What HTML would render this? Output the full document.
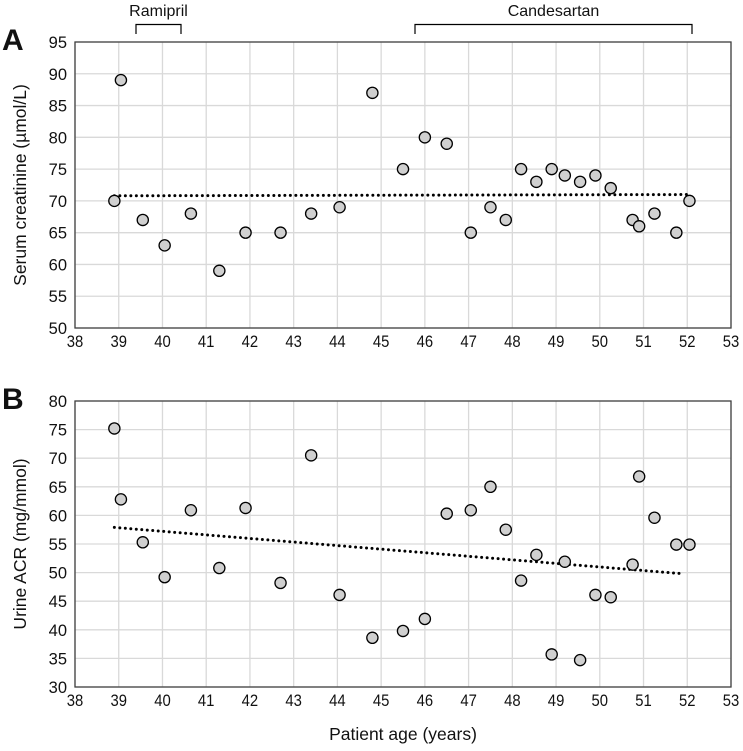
<!DOCTYPE html>
<html><head><meta charset="utf-8"><style>
body{margin:0;background:#fff}
svg text{font-family:"Liberation Sans",Arial,sans-serif;fill:#111}
</style></head><body>
<svg id="s" width="743" height="746" xmlns="http://www.w3.org/2000/svg"></svg>
<script>
const ages=[38.9,39.05,39.55,40.05,40.65,41.3,41.9,42.7,43.4,44.05,44.8,45.5,46,46.5,47.05,47.5,47.85,48.2,48.55,48.9,49.2,49.55,49.9,50.25,50.75,50.9,51.25,51.75,52.05];
const creatinine=[70,89,67,63,68,59,65,65,68,69,87,75,80,79,65,69,67,75,73,75,74,73,74,72,67,66,68,65,70];
const acr=[75.2,62.8,55.3,49.2,60.9,50.8,61.3,48.2,70.5,46.1,38.6,39.8,41.9,60.3,60.9,65,57.5,48.6,53.1,35.7,51.9,34.7,46.1,45.7,51.4,66.8,59.6,54.9,54.9];
const trendA=[[38.9,70.8],[52.05,71.0]];
const trendB=[[38.9,57.9],[51.9,49.8]];
const xTicks=[38,39,40,41,42,43,44,45,46,47,48,49,50,51,52,53];
const yTicksA=[50,55,60,65,70,75,80,85,90,95];
const yTicksB=[30,35,40,45,50,55,60,65,70,75,80];
const svg=document.getElementById('s');
const NS='http://www.w3.org/2000/svg';
function mk(t,a,p){const e=document.createElementNS(NS,t);for(const k in a)e.setAttribute(k,a[k]);(p||svg).appendChild(e);return e;}
const L=75,R=731;
const X=v=>L+(v-38)/15*(R-L);
function panel(name,top,bot,ymin,ymax,yt,vals,trend,title,letter){
  const g=mk('g',{});
  
  
  const Y=v=>bot-(v-ymin)/(ymax-ymin)*(bot-top);
  xTicks.forEach(t=>{const l=mk('line',{x1:X(t),x2:X(t),y1:top,y2:bot,stroke:'#d9d9d9','stroke-width':1.3},g);
    
    const tx=mk('text',{x:X(t),y:bot+19,'text-anchor':'middle','font-size':16.5,transform:`translate(${X(t)},0) scale(0.9,1) translate(${-X(t)},0)`},g);tx.textContent=t;
    });
  yt.forEach(t=>{const l=mk('line',{x1:L,x2:R,y1:Y(t),y2:Y(t),stroke:'#d9d9d9','stroke-width':1.3},g);
    
    const tx=mk('text',{x:L-8,y:Y(t)+6,'text-anchor':'end','font-size':16.5},g);tx.textContent=t;
    });
  const b=mk('rect',{x:L,y:top,width:R-L,height:bot-top,fill:'none',stroke:'#404040','stroke-width':1.3},g);
  
  const tl=mk('line',{x1:X(trend[0][0]),y1:Y(trend[0][1]),x2:X(trend[1][0]),y2:Y(trend[1][1]),stroke:'#000','stroke-width':3,'stroke-dasharray':'0 5.5','stroke-linecap':'round'},g);
  
  vals.forEach((v,i)=>{const c=mk('circle',{cx:X(ages[i]),cy:Y(v),r:5.6,fill:'#d0d0d0',stroke:'#000','stroke-width':1.3},g);
    });
  const yc=(top+bot)/2;
  const yl=mk('text',{x:0,y:0,'text-anchor':'middle','font-size':17.5,transform:`translate(26,${yc}) rotate(-90)`},g);yl.textContent=title;
  
  const lt=mk('text',{x:2,y:top+8,'font-size':30,'font-weight':'bold'},g);lt.textContent=letter;
  
}
panel('creatinine-panel',42,328,50,95,yTicksA,creatinine,trendA,'Serum creatinine (µmol/L)','A');
panel('acr-panel',401,687,30,80,yTicksB,acr,trendB,'Urine ACR (mg/mmol)','B');
const xt=mk('text',{x:403,y:740,'text-anchor':'middle','font-size':17.5});xt.textContent='Patient age (years)';

function bracket(name,x1,x2,label){
  const p=mk('path',{d:`M${x1} 34 V24.5 H${x2} V34`,fill:'none',stroke:'#000','stroke-width':1.2});
  
  const t=mk('text',{x:(x1+x2)/2,y:16,'text-anchor':'middle','font-size':16});t.textContent=label;
  
}
bracket('ramipril',136,181,'Ramipril');
bracket('candesartan',415,692,'Candesartan');
</script>
</body></html>
